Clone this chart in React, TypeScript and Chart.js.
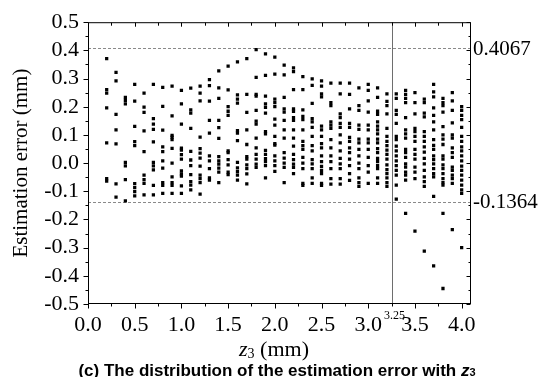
import React, { useEffect, useRef } from 'react';
import { Chart, registerables } from 'chart.js';

Chart.register(...registerables);

// z3 positions (mm) of the measured columns
const z3Columns: number[] = [
  0.2, 0.3, 0.4, 0.5, 0.6, 0.7, 0.8, 0.9, 1.0, 1.1, 1.2, 1.3, 1.4, 1.5, 1.6, 1.7, 1.8, 1.9, 2.0,
  2.1, 2.2, 2.3, 2.4, 2.5, 2.6, 2.7, 2.8, 2.9, 3.0, 3.1, 3.2, 3.3, 3.4, 3.5, 3.6, 3.7, 3.8, 3.9, 4.0,
];

// estimation errors (mm) read for each column
const errorColumns: number[][] = [
  [0.371, 0.261, 0.248, 0.196, 0.072, -0.055, -0.064],
  [0.322, 0.292, 0.173, 0.118, 0.068, -0.074, -0.121],
  [0.233, 0.223, 0.21, 0.003, -0.01, -0.059, -0.134],
  [0.279, 0.22, 0.13, 0.076, 0.062, -0.073, -0.087, -0.101, -0.116],
  [0.248, 0.199, 0.18, 0.114, 0.041, -0.043, -0.059, -0.072, -0.113],
  [0.279, 0.158, 0.138, 0.12, 0.075, 0.003, -0.01, -0.024, -0.079, -0.113],
  [0.269, 0.201, 0.117, 0.058, 0.041, 0.008, -0.018, -0.069, -0.079, -0.107],
  [0.273, 0.168, 0.098, 0.092, 0.083, 0.052, 0.0, -0.049, -0.069, -0.079, -0.107],
  [0.258, 0.21, 0.138, 0.053, 0.046, 0.03, 0.014, -0.028, -0.038, -0.046, -0.081, -0.107],
  [0.266, 0.189, 0.177, 0.123, 0.042, 0.011, -0.009, -0.041, -0.066, -0.078, -0.095],
  [0.273, 0.248, 0.221, 0.092, 0.051, 0.035, 0.018, -0.011, -0.043, -0.055, -0.069, -0.11],
  [0.296, 0.275, 0.22, 0.152, 0.106, 0.026, 0.008, -0.02, -0.052, -0.06],
  [0.327, 0.267, 0.23, 0.152, 0.126, 0.088, 0.023, 0.008, -0.004, -0.018, -0.032, -0.069],
  [0.344, 0.26, 0.2, 0.184, 0.169, 0.043, 0.037, 0.012, -0.006, -0.032, -0.041],
  [0.359, 0.242, 0.227, 0.213, 0.115, 0.106, 0.08, 0.003, -0.017, -0.03, -0.043, -0.06],
  [0.371, 0.244, 0.18, 0.118, 0.066, 0.023, 0.014, -0.006, -0.02, -0.038, -0.074],
  [0.403, 0.304, 0.244, 0.238, 0.187, 0.149, 0.138, 0.089, 0.054, 0.031, 0.014, -0.004, -0.015],
  [0.388, 0.311, 0.238, 0.21, 0.198, 0.177, 0.112, 0.104, 0.045, 0.031, 0.016, 0.005, -0.009, -0.052],
  [0.376, 0.316, 0.227, 0.215, 0.2, 0.156, 0.135, 0.095, 0.069, 0.064, 0.026, 0.008, -0.009, -0.029],
  [0.348, 0.313, 0.233, 0.192, 0.181, 0.152, 0.118, 0.089, 0.037, 0.018, 0.0, -0.015, -0.069],
  [0.338, 0.325, 0.261, 0.192, 0.184, 0.161, 0.152, 0.118, 0.089, 0.06, 0.031, 0.012, -0.004, -0.015, -0.037],
  [0.307, 0.261, 0.189, 0.166, 0.154, 0.118, 0.077, 0.062, 0.049, 0.02, 0.0, -0.02, -0.072, -0.079],
  [0.299, 0.276, 0.212, 0.158, 0.146, 0.127, 0.095, 0.062, 0.043, 0.012, -0.003, -0.02, -0.052, -0.072],
  [0.292, 0.273, 0.246, 0.235, 0.131, 0.118, 0.095, 0.069, 0.054, 0.026, 0.005, -0.012, -0.026, -0.037, -0.072, -0.079],
  [0.284, 0.215, 0.204, 0.146, 0.135, 0.123, 0.083, 0.054, 0.026, 0.005, -0.02, -0.055, -0.075],
  [0.284, 0.246, 0.175, 0.161, 0.141, 0.127, 0.1, 0.072, 0.043, 0.017, -0.003, -0.02, -0.055, -0.075],
  [0.284, 0.244, 0.192, 0.141, 0.127, 0.091, 0.077, 0.054, 0.037, 0.014, -0.009, -0.037, -0.061],
  [0.267, 0.204, 0.187, 0.135, 0.12, 0.085, 0.072, 0.049, 0.026, 0.0, -0.02, -0.052, -0.069, -0.083],
  [0.279, 0.258, 0.221, 0.181, 0.135, 0.118, 0.085, 0.072, 0.049, 0.02, -0.009, -0.032, -0.072],
  [0.267, 0.233, 0.184, 0.173, 0.146, 0.131, 0.118, 0.104, 0.085, 0.072, 0.051, 0.037, 0.017, 0.005, -0.009, -0.02, -0.052, -0.072],
  [0.246, 0.219, 0.204, 0.175, 0.123, 0.095, 0.077, 0.062, 0.046, 0.031, 0.014, -0.006, -0.023, -0.037, -0.052, -0.069, -0.083],
  [0.246, 0.23, 0.187, 0.173, 0.141, 0.095, 0.083, 0.06, 0.043, 0.026, 0.008, -0.009, -0.026, -0.043, -0.078, -0.128],
  [0.258, 0.244, 0.23, 0.215, 0.161, 0.118, 0.104, 0.089, 0.049, 0.037, 0.02, -0.003, -0.014, -0.032, -0.043, -0.06, -0.178],
  [0.25, 0.215, 0.175, 0.123, 0.112, 0.095, 0.077, 0.049, 0.031, 0.014, -0.014, -0.032, -0.055, -0.241],
  [0.227, 0.215, 0.177, 0.164, 0.112, 0.095, 0.077, 0.058, 0.039, 0.017, -0.003, -0.026, -0.049, -0.066, -0.083, -0.312],
  [0.279, 0.253, 0.235, 0.196, 0.169, 0.146, 0.118, 0.083, 0.063, 0.049, 0.026, 0.012, -0.003, -0.02, -0.037, -0.049, -0.118, -0.365],
  [0.23, 0.215, 0.204, 0.181, 0.129, 0.1, 0.085, 0.066, 0.026, 0.014, -0.006, -0.02, -0.037, -0.055, -0.069, -0.078, -0.178, -0.445],
  [0.25, 0.221, 0.187, 0.143, 0.1, 0.089, 0.054, 0.037, 0.02, -0.014, -0.026, -0.043, -0.055, -0.072, -0.236],
  [0.2, 0.187, 0.169, 0.154, 0.127, 0.095, 0.077, 0.058, 0.043, 0.026, 0.008, -0.011, -0.026, -0.043, -0.06, -0.078, -0.095, -0.107, -0.3],
];

const upperBound = 0.4067;
const lowerBound = -0.1364;
const splitZ3 = 3.25;
const boundLabels = ['0.4067', '-0.1364'];
const splitLabel = '3.25';
const yTitle = 'Estimation error (mm)';
const xTitleParts = ['z', '3', ' (mm)'];
const captionParts = ['(c) The distribution of the estimation error with ', 'z', '3'];

const SERIF = '"Liberation Serif", "Times New Roman", serif';
const SANS = '"Liberation Sans", Arial, sans-serif';

const decorPlugin = {
  id: 'decor',
  beforeDatasetsDraw(chart: any) {
    const { ctx, chartArea: a, scales } = chart;
    const xs = scales.x;
    const ys = scales.y;
    ctx.save();
    ctx.strokeStyle = '#8a8a8a';
    ctx.lineWidth = 1;
    ctx.setLineDash([3, 2]);
    [upperBound, lowerBound].forEach((v) => {
      const y = Math.round(ys.getPixelForValue(v)) + 0.5;
      ctx.beginPath();
      ctx.moveTo(a.left, y);
      ctx.lineTo(a.right, y);
      ctx.stroke();
    });
    ctx.setLineDash([]);
    ctx.strokeStyle = '#6e6e6e';
    const vx = Math.round(xs.getPixelForValue(splitZ3)) + 0.5;
    ctx.beginPath();
    ctx.moveTo(vx, a.top);
    ctx.lineTo(vx, a.bottom);
    ctx.stroke();
    ctx.restore();
  },
  afterDraw(chart: any) {
    const { ctx, chartArea: a, scales } = chart;
    const xs = scales.x;
    const ys = scales.y;
    ctx.save();
    ctx.strokeStyle = '#000';
    ctx.lineWidth = 1;
    const L = a.left + 0.5;
    const R = Math.round(a.right) - 0.5;
    const T = a.top + 0.5;
    const B = Math.round(a.bottom) - 0.5;
    ctx.strokeRect(L, T, R - L, B - T);
    ctx.beginPath();
    for (let i = 0; i <= 16; i++) {
      const v = i * 0.25;
      const x = Math.round(xs.getPixelForValue(v)) + 0.5;
      const major = i % 2 === 0;
      ctx.moveTo(x, B);
      ctx.lineTo(x, B + (major ? 5 : 3));
      ctx.moveTo(x, T);
      ctx.lineTo(x, T + (major ? 4 : 3));
    }
    for (let i = 0; i <= 20; i++) {
      const v = -0.5 + i * 0.05;
      const y = Math.round(ys.getPixelForValue(v)) + 0.5;
      const major = i % 2 === 0;
      ctx.moveTo(L, y);
      ctx.lineTo(L - (major ? 5 : 3), y);
      ctx.moveTo(R, y);
      ctx.lineTo(R - (major ? 4 : 2), y);
    }
    ctx.stroke();

    ctx.fillStyle = '#000';
    ctx.font = `21px ${SERIF}`;
    ctx.textAlign = 'left';
    ctx.textBaseline = 'middle';
    ctx.fillText(boundLabels[0], a.right + 2, ys.getPixelForValue(upperBound) + 1);
    ctx.fillText(boundLabels[1], a.right + 2, ys.getPixelForValue(lowerBound) + 1);

    ctx.font = `12px ${SERIF}`;
    ctx.textAlign = 'center';
    ctx.textBaseline = 'top';
    ctx.fillText(splitLabel, xs.getPixelForValue(splitZ3) + 3, a.bottom + 6);

    ctx.textAlign = 'left';
    ctx.textBaseline = 'alphabetic';
    const f1 = `italic 22px ${SERIF}`;
    const f2 = `14px ${SERIF}`;
    const f3 = `22px ${SERIF}`;
    ctx.font = f1;
    const w1 = ctx.measureText(xTitleParts[0]).width;
    ctx.font = f2;
    const w2 = ctx.measureText(xTitleParts[1]).width;
    ctx.font = f3;
    const w3 = ctx.measureText(xTitleParts[2]).width;
    let x0 = 274 - (w1 + w2 + w3) / 2;
    const base = 356;
    ctx.font = f1;
    ctx.fillText(xTitleParts[0], x0, base);
    x0 += w1;
    ctx.font = f2;
    ctx.fillText(xTitleParts[1], x0, base + 2);
    x0 += w2;
    ctx.font = f3;
    ctx.fillText(xTitleParts[2], x0, base);

    const c1 = `bold 17px ${SANS}`;
    const c2 = `italic bold 17px ${SANS}`;
    const c3 = `bold 11px ${SANS}`;
    ctx.font = c1;
    const cw1 = ctx.measureText(captionParts[0]).width;
    ctx.font = c2;
    const cw2 = ctx.measureText(captionParts[1]).width;
    ctx.font = c3;
    const cw3 = ctx.measureText(captionParts[2]).width;
    let cx = 277 - (cw1 + cw2 + cw3) / 2;
    const cb = 376;
    ctx.font = c1;
    ctx.fillText(captionParts[0], cx, cb);
    cx += cw1;
    ctx.font = c2;
    ctx.fillText(captionParts[1], cx, cb);
    cx += cw2;
    ctx.font = c3;
    ctx.fillText(captionParts[2], cx, cb);
    ctx.restore();
  },
};

export default function App() {
  const ref = useRef<HTMLCanvasElement | null>(null);
  useEffect(() => {
    document.body.style.margin = '0';
    const points = z3Columns.flatMap((z, i) => errorColumns[i].map((e) => ({ x: z, y: e })));
    const fmt = (v: number) => (Math.abs(v) < 1e-9 ? '0.0' : Number(v).toFixed(1));
    const chart = new Chart(ref.current as HTMLCanvasElement, {
      type: 'scatter',
      data: {
        datasets: [
          {
            data: points,
            pointStyle: 'rect',
            pointRadius: 2.3,
            pointBorderWidth: 0,
            backgroundColor: '#000',
            borderColor: '#000',
          } as any,
        ],
      },
      options: {
        animation: false,
        responsive: false,
        layout: { padding: { top: 14, right: 79, left: 0, bottom: 0 } },
        plugins: { legend: { display: false }, tooltip: { enabled: false } },
        scales: {
          x: {
            type: 'linear',
            min: 0,
            max: 4.1,
            grid: { display: false, drawTicks: false },
            border: { display: false },
            ticks: {
              stepSize: 0.5,
              includeBounds: false,
              autoSkip: false,
              maxRotation: 0,
              padding: 8,
              color: '#000',
              font: { family: SERIF, size: 22 },
              callback: (v: any) => fmt(Number(v)),
            },
            afterFit: (s: any) => {
              s.height = 73;
            },
          },
          y: {
            type: 'linear',
            min: -0.5,
            max: 0.5,
            grid: { display: false, drawTicks: false },
            border: { display: false },
            ticks: {
              stepSize: 0.1,
              autoSkip: false,
              padding: 9,
              color: '#000',
              font: { family: SERIF, size: 22 },
              callback: (v: any) => fmt(Number(v)),
            },
            title: {
              display: true,
              text: yTitle,
              color: '#000',
              font: { family: SERIF, size: 21 },
              padding: { top: 9, bottom: 0 },
            },
            afterFit: (s: any) => {
              s.width = 88;
            },
          },
        },
      } as any,
      plugins: [decorPlugin],
    });
    return () => chart.destroy();
  }, []);
  return <canvas ref={ref} width={550} height={377} style={{ display: 'block' }} />;
}
